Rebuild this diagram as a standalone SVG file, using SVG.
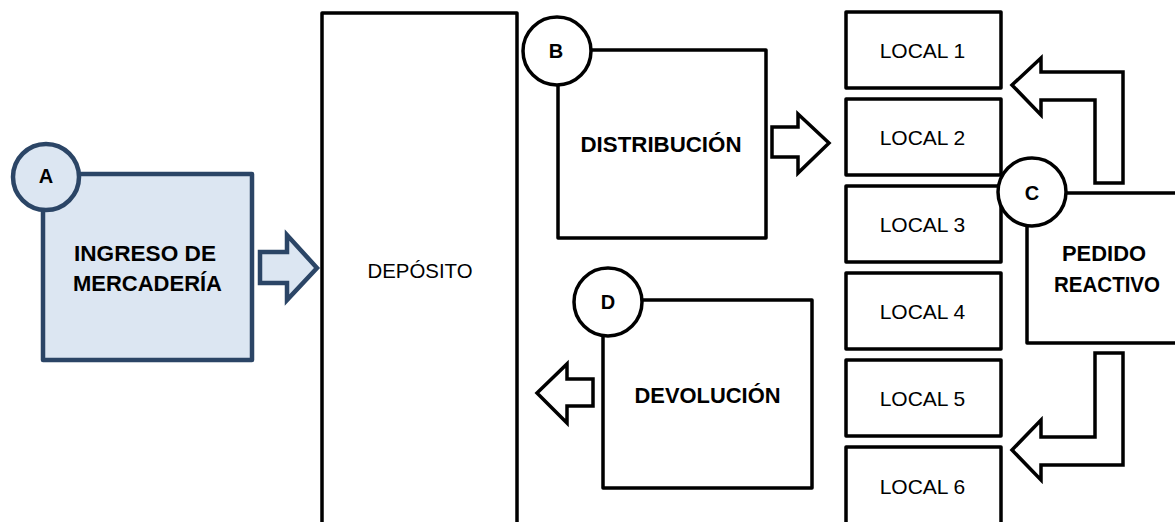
<svg xmlns="http://www.w3.org/2000/svg" width="1175" height="522" viewBox="0 0 1175 522">
<style>
.box{fill:#ffffff;stroke:#000000;stroke-width:3.5;stroke-linejoin:round}
.boxA{fill:#dce6f2;stroke:#2b4566;stroke-width:4.5;stroke-linejoin:round}
.arr{fill:#ffffff;stroke:#000000;stroke-width:3.5;stroke-linejoin:miter}
.arrA{fill:#dce6f2;stroke:#2b4566;stroke-width:4.5;stroke-linejoin:miter}
.b{font-family:"Liberation Sans",Arial,sans-serif;font-weight:bold;font-size:21.5px;fill:#000;text-anchor:middle;dominant-baseline:central}
.c{font-family:"Liberation Sans",Arial,sans-serif;font-weight:bold;font-size:20px;fill:#000;text-anchor:middle;dominant-baseline:central}
.r{font-family:"Liberation Sans",Arial,sans-serif;font-size:21px;fill:#000;text-anchor:middle;dominant-baseline:central}
</style>
<rect width="1175" height="522" fill="#ffffff"/>
<g id="deposito">
<rect class="box" x="322" y="13" width="195" height="530"/>
<text class="r" x="420" y="270" textLength="105" lengthAdjust="spacingAndGlyphs">DEPÓSITO</text>
</g>
<g id="ingreso">
<rect class="boxA" x="43" y="174" width="209" height="186"/>
<circle class="boxA" cx="46" cy="177" r="33"/>
<text class="c" x="46" y="176">A</text>
<text class="b" x="145" y="254" textLength="142" lengthAdjust="spacingAndGlyphs">INGRESO DE</text>
<text class="b" x="147.5" y="284" textLength="149" lengthAdjust="spacingAndGlyphs">MERCADERÍA</text>
</g>
<g id="distribucion">
<rect class="box" x="558" y="50" width="208" height="188"/>
<circle class="box" cx="557" cy="51" r="34"/>
<text class="c" x="556" y="51">B</text>
<text class="b" x="661" y="145" textLength="161" lengthAdjust="spacingAndGlyphs">DISTRIBUCIÓN</text>
</g>
<g id="devolucion">
<rect class="box" x="603" y="300" width="209" height="188"/>
<circle class="box" cx="608" cy="302" r="34"/>
<text class="c" x="608" y="302">D</text>
<text class="b" x="707.5" y="395.5" textLength="146" lengthAdjust="spacingAndGlyphs">DEVOLUCIÓN</text>
</g>
<g id="local1"><rect class="box" x="846" y="12" width="155" height="76"/><text class="r" x="922.5" y="50">LOCAL 1</text></g>
<g id="local2"><rect class="box" x="846" y="99" width="155" height="76"/><text class="r" x="922.5" y="137">LOCAL 2</text></g>
<g id="local3"><rect class="box" x="846" y="186" width="155" height="76"/><text class="r" x="922.5" y="224">LOCAL 3</text></g>
<g id="local4"><rect class="box" x="846" y="273" width="155" height="76"/><text class="r" x="922.5" y="311">LOCAL 4</text></g>
<g id="local5"><rect class="box" x="846" y="360" width="155" height="76"/><text class="r" x="922.5" y="398">LOCAL 5</text></g>
<g id="local6"><rect class="box" x="846" y="447" width="155" height="80"/><text class="r" x="922.5" y="486">LOCAL 6</text></g>
<g id="pedido">
<rect class="box" x="1027" y="193" width="160" height="150"/>
<circle class="box" cx="1032" cy="192" r="34"/>
<text class="c" x="1032" y="193">C</text>
<text class="b" x="1104" y="254" textLength="84" lengthAdjust="spacingAndGlyphs">PEDIDO</text>
<text class="b" x="1107" y="285" textLength="106" lengthAdjust="spacingAndGlyphs">REACTIVO</text>
</g>
<g id="connectors">
<path class="arrA" d="M317,268 L287,235 L287,252 L260,252 L260,283 L287,283 L287,300 Z"/>
<path class="arr" d="M829,143 L798,114 L798,127 L772,127 L772,157 L798,157 L798,173 Z"/>
<path class="arr" d="M537,393 L567,364 L567,379 L593,379 L593,406 L567,406 L567,423 Z"/>
<path class="arr" d="M1012,85 L1041,58 L1041,72 L1123,72 L1123,183 L1095,183 L1095,100 L1041,100 L1041,115 Z"/>
<path class="arr" d="M1012,450 L1041,420 L1041,437 L1095,437 L1095,353 L1123,353 L1123,465 L1041,465 L1041,480 Z"/>
</g>
</svg>
